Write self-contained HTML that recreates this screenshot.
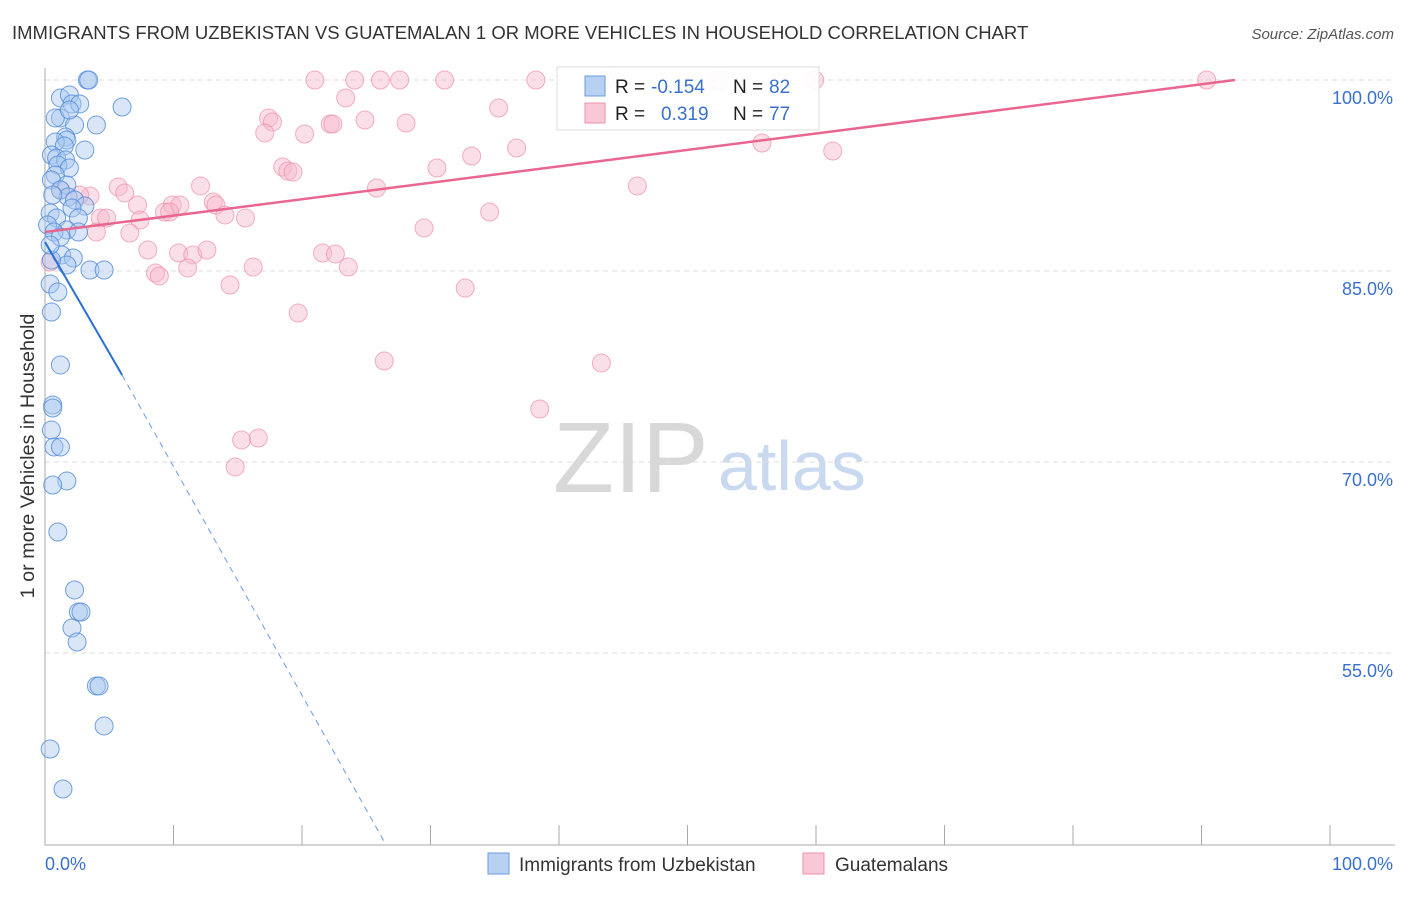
<!DOCTYPE html>
<html><head><meta charset="utf-8"><style>
body{margin:0;background:#fff;font-family:"Liberation Sans",sans-serif;}
svg text{font-family:"Liberation Sans",sans-serif;}
</style></head><body>
<svg id="chart" width="1406" height="892" viewBox="0 0 1406 892">
<text x="12" y="39" font-size="18.5" fill="#333">IMMIGRANTS FROM UZBEKISTAN VS GUATEMALAN 1 OR MORE VEHICLES IN HOUSEHOLD CORRELATION CHART</text>
<text x="1394" y="39" font-size="15" fill="#555" font-style="italic" text-anchor="end">Source: ZipAtlas.com</text>
<g>
<text x="553" y="492" font-size="100" fill="#d8d8d8" font-family="Liberation Serif,serif">ZIP</text>
<text x="718" y="490" font-size="70" fill="#c9d9ef">atlas</text>
</g>
<g id="grid"></g>
<g id="axes"></g>
<g id="pts"></g>
<g id="trends"></g>
<g>
<rect x="557" y="67" width="262" height="63" fill="#fff" fill-opacity="0.9" stroke="#ddd"/>
<rect x="585" y="76" width="20" height="20" fill="#b8d0f2" stroke="#6a9be0"/>
<text x="615" y="93" font-size="19" fill="#222">R =</text>
<text x="651" y="93" font-size="19" fill="#3a70cc">-0.154</text>
<text x="733" y="93" font-size="19" fill="#222">N =</text>
<text x="769" y="93" font-size="19" fill="#3a70cc">82</text>
<rect x="585" y="103" width="20" height="20" fill="#f9c8d6" stroke="#ee90ac"/>
<text x="615" y="120" font-size="19" fill="#222">R =</text>
<text x="661" y="120" font-size="19" fill="#3a70cc">0.319</text>
<text x="733" y="120" font-size="19" fill="#222">N =</text>
<text x="769" y="120" font-size="19" fill="#3a70cc">77</text>
</g>
<g>
<rect x="488" y="853" width="21" height="21" fill="#b8d0f2" stroke="#6a9be0"/>
<text x="519" y="871" font-size="19" fill="#333">Immigrants from Uzbekistan</text>
<rect x="803" y="853" width="21" height="21" fill="#f9c8d6" stroke="#ee90ac"/>
<text x="835" y="871" font-size="19" fill="#333">Guatemalans</text>
</g>
</svg>
<script>
const yTicks=[100,85,70,55];
const yTickLabels=["100.0%","85.0%","70.0%","55.0%"];
const xTicks=[0,10,20,30,40,50,60,70,80,90,100];
const xEndLabels=["0.0%","100.0%"];
const blueX=[3.3,3.4,1.2,1.9,2.1,2.7,6.0,4.0,1.2,2.3,1.6,1.7,0.8,1.5,0.5,0.9,1.6,1.0,1.9,0.8,0.5,1.7,1.2,1.8,2.3,3.1,0.6,2.1,0.4,0.9,2.6,1.7,2.6,0.2,0.7,1.2,1.3,2.2,1.7,3.5,4.6,0.4,1.0,0.5,1.2,0.6,0.6,0.5,0.7,1.2,1.7,0.6,1.0,2.3,2.6,2.8,2.1,2.5,4.0,4.2,4.6,0.4,1.4,0.5,0.4,0.8,1.9,3.1];
const blueY=[100,100,98.59,98.82,98.12,98.12,97.88,96.47,97.02,96.47,95.52,95.29,95.13,94.82,94.11,93.87,93.72,93.32,93.09,92.54,92.15,91.75,91.36,90.81,90.58,90.10,90.97,89.95,89.55,89.16,89.16,88.22,88.06,88.61,88.06,87.67,86.26,86.02,85.47,85.08,85.08,83.98,83.35,81.78,77.62,74.48,74.24,72.51,71.18,71.18,68.51,68.19,64.50,59.95,58.22,58.22,56.96,55.86,52.41,52.41,49.27,47.46,44.32,85.86,87.04,97.02,97.64,94.50];
const pinkX=[21.0,24.1,26.1,27.6,31.1,38.2,43.6,52.4,59.9,90.4,23.4,35.3,17.4,17.7,22.2,22.4,24.9,28.1,17.1,20.2,33.2,36.7,55.8,61.3,18.5,18.9,19.3,30.5,25.8,46.1,5.7,6.2,12.1,3.5,2.7,1.2,7.2,9.9,10.5,13.1,13.3,9.3,9.7,14.0,15.6,4.3,4.8,7.4,4.0,6.6,34.6,29.5,8.0,10.4,11.5,12.6,21.6,22.6,16.2,23.6,8.6,8.9,11.1,14.4,32.7,19.7,26.4,43.3,38.5,15.3,16.6,14.8,0.4];
const pinkY=[100,100,100,100,100,100,100,100,100,100,98.59,97.80,97.02,96.70,96.54,96.54,96.86,96.62,95.84,95.76,94.03,94.66,95.05,94.42,93.17,92.85,92.77,93.09,91.52,91.68,91.60,91.13,91.68,90.89,90.97,91.36,90.18,90.18,90.18,90.42,90.18,89.63,89.63,89.40,89.16,89.16,89.16,89.00,88.06,87.98,89.63,88.38,86.65,86.41,86.26,86.65,86.41,86.33,85.31,85.31,84.84,84.61,85.24,83.90,83.66,81.70,77.93,77.77,74.16,71.73,71.88,69.61,85.71];
const blueTrend=[[0,87.28],[6.0,76.83]];
const blueTrendDash=[[6.0,76.83],[26.5,40]];
const pinkTrend=[[0,88.06],[92.6,100]];
const X0=45,X1=1330,Y100=80,PXPCT=12.733;
const sx=v=>X0+(X1-X0)*v/100;
const sy=v=>Y100+(100-v)*PXPCT;
const NS="http://www.w3.org/2000/svg";
function mk(tag,attrs,parent){const e=document.createElementNS(NS,tag);for(const k in attrs)e.setAttribute(k,attrs[k]);parent.appendChild(e);return e;}
const grid=document.getElementById('grid'),axes=document.getElementById('axes'),pts=document.getElementById('pts'),tr=document.getElementById('trends');
yTicks.forEach((t,i)=>{
 const l=mk('line',{x1:X0,x2:1395,y1:sy(t),y2:sy(t),stroke:'#ddd','stroke-dasharray':'5,4'},grid);
 
 
 const tx=mk('text',{x:1393,y:sy(t)+24,'font-size':18,fill:'#3a70cc','text-anchor':'end'},axes);
 tx.textContent=yTickLabels[i];
 
 
});
const ya=mk('line',{x1:X0,x2:X0,y1:68,y2:845,stroke:'#aaa'},axes);


const xa=mk('line',{x1:X0,x2:1395,y1:845,y2:845,stroke:'#aaa'},axes);


xTicks.forEach(t=>{
 const l=mk('line',{x1:sx(t),x2:sx(t),y1:825,y2:845,stroke:'#aaa'},axes);
 
 
});
const xl0=mk('text',{x:45,y:870,'font-size':18,fill:'#3a70cc'},axes);xl0.textContent=xEndLabels[0];


const xl1=mk('text',{x:1393,y:870,'font-size':18,fill:'#3a70cc','text-anchor':'end'},axes);xl1.textContent=xEndLabels[1];


const yt=mk('text',{x:0,y:0,'font-size':19.8,fill:'#333','text-anchor':'middle',transform:'translate(34,456) rotate(-90)'},axes);
yt.textContent='1 or more Vehicles in Household';


pinkX.forEach((x,i)=>{
 const c=mk('circle',{cx:sx(x),cy:sy(pinkY[i]),r:9,fill:'#f7b8cb','fill-opacity':0.45,stroke:'#ec8fab','stroke-opacity':0.7},pts);
 
 
});
blueX.forEach((x,i)=>{
 const c=mk('circle',{cx:sx(x),cy:sy(blueY[i]),r:9,fill:'#a9c8f0','fill-opacity':0.45,stroke:'#4f8ad8','stroke-opacity':0.8},pts);
 
 
});
const bt=mk('line',{x1:sx(blueTrend[0][0]),y1:sy(blueTrend[0][1]),x2:sx(blueTrend[1][0]),y2:sy(blueTrend[1][1]),stroke:'#2a6fd6','stroke-width':2},tr);


const bd=mk('line',{x1:sx(blueTrendDash[0][0]),y1:sy(blueTrendDash[0][1]),x2:sx(blueTrendDash[1][0]),y2:sy(blueTrendDash[1][1]),stroke:'#6a9be0','stroke-width':1,'stroke-dasharray':'6,5'},tr);


const pt=mk('line',{x1:sx(pinkTrend[0][0]),y1:sy(pinkTrend[0][1]),x2:sx(pinkTrend[1][0]),y2:sy(pinkTrend[1][1]),stroke:'#e8668f','stroke-width':2.5},tr);


</script>
</body></html>
